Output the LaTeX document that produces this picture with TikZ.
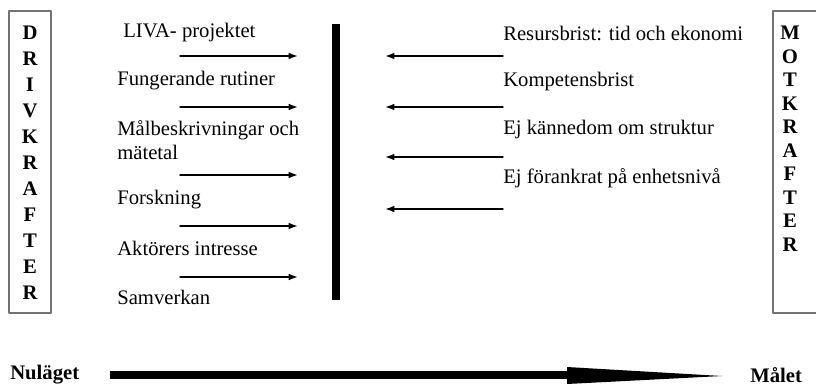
\documentclass[tikz,border=0pt]{standalone}
\usepackage{fontspec}
\setmainfont{Liberation Serif}
\usetikzlibrary{arrows.meta}

\begin{document}
\begin{tikzpicture}[x=0.75pt,y=-0.75pt,line cap=round,line join=round,>={Latex[length=7pt,width=5pt]},
  every node/.style={font=\fontsize{15.5}{18}\selectfont,inner sep=0pt},
  label/.style={anchor=west},
  boxletter/.style={font=\fontsize{15.5}{18}\selectfont\bfseries},
  force/.style={->,line width=1.1pt},
  frame/.style={draw=black!55,line width=1.1pt}]
  \useasboundingbox (0,0) rectangle (816,385);

  % side boxes
  \draw[frame] (9,11) rectangle (51,313);
  \draw[frame] (773,11) rectangle (822,313);
  \foreach \ch [count=\i from 0] in {D,R,I,V,K,R,A,F,T,E,R}
    \node[boxletter] (drv\i) at (30,33+26*\i) {\ch};
  \foreach \ch [count=\i from 0] in {M,O,T,K,R,A,F,T,E,R}
    \node[boxletter] (mot\i) at (790,33+23.5*\i) {\ch};

  % middle bar
  \fill (332,24) rectangle (340,300);

  % driving forces
  \node[label] (liva) at (123,33) {LIVA- projektet};
  \node[label] (rutin) at (117,81) {Fungerande rutiner};
  \node[label,align=left] (malb) at (117,140) {Målbeskrivningar och\\mätetal};
  \node[label] (forsk) at (117,200) {Forskning};
  \node[label] (aktor) at (117,248) {Aktörers intresse};
  \node[label] (samv) at (117,297) {Samverkan};

  \foreach \y [count=\i] in {56,107,175,226,277} {
    \coordinate (ds\i) at (180,\y);
    \coordinate (de\i) at (298,\y);
    \draw[force] (ds\i) -- (de\i);
  }

  % restraining forces
  \node[label] (resurs) at (503,33) {Resursbrist: tid och ekonomi};
  \node[label] (komp) at (503,82) {Kompetensbrist};
  \node[label] (kann) at (503,130) {Ej kännedom om struktur};
  \node[label] (fora) at (503,178) {Ej förankrat på enhetsnivå};

  \foreach \y [count=\i] in {56,107,157,209} {
    \coordinate (ms\i) at (503,\y);
    \coordinate (me\i) at (385,\y);
    \draw[force] (ms\i) -- (me\i);
  }

  % time line
  \node[label,font=\fontsize{15.5}{18}\selectfont\bfseries] (nu) at (10,375) {Nuläget};
  \node[label,font=\fontsize{15.5}{18}\selectfont\bfseries] (mal) at (750,375) {Målet};
  \coordinate (tl0) at (110,375);
  \coordinate (tl1) at (568,375);
  \coordinate (tl2) at (722,376);
  \draw[line width=6pt,line cap=butt] (tl0) -- (tl1);
  \fill (567,367) -- (tl2) -- (567,384) -- cycle;
\end{tikzpicture}
\end{document}
